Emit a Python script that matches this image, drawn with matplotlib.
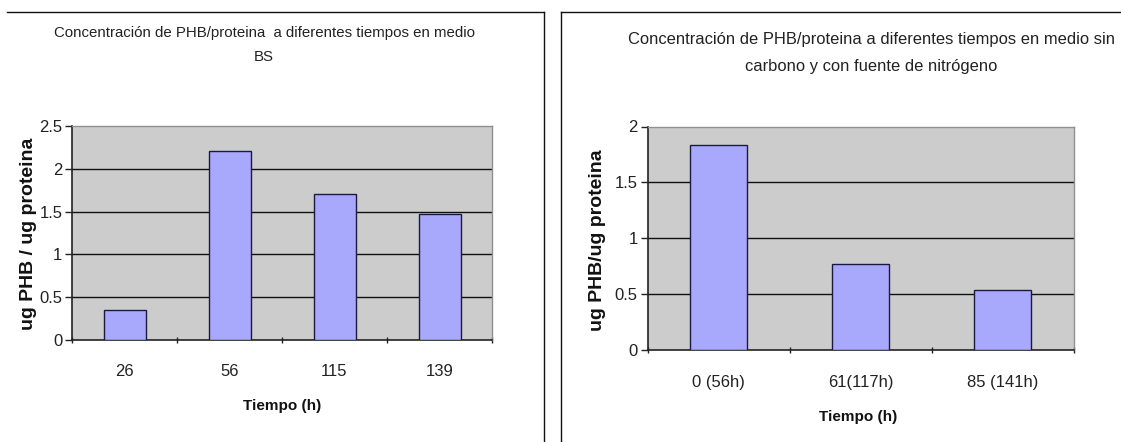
import matplotlib
matplotlib.use("Agg")
import matplotlib.pyplot as plt
from matplotlib import font_manager
from matplotlib.lines import Line2D

names = {f.name for f in font_manager.fontManager.ttflist}
NARROW = 'Liberation Sans Narrow' if 'Liberation Sans Narrow' in names else 'Liberation Sans'

# Data
left_categories = ['26', '56', '115', '139']
left_values = [0.35, 2.21, 1.71, 1.47]
right_categories = ['0 (56h)', '61(117h)', '85 (141h)']
right_values = [1.83, 0.77, 0.54]

left_title = 'Concentración de PHB/proteina  a diferentes tiempos en medio\nBS'
right_title = 'Concentración de PHB/proteina a diferentes tiempos en medio sin\ncarbono y con fuente de nitrógeno'

W, H = 1121, 442
fig = plt.figure(figsize=(W / 100, H / 100), dpi=100)
fig.patch.set_facecolor('white')

BAR = '#a8a8fc'
BG = '#cccccc'

def px(x, y):
    return x / W, 1 - y / H

def panel(rect, cats, vals, ymax, ystep, title, title_xy, title_size, ylabel, ylabel_xy,
          xlabel_xy, ticklabel_pad):
    ax = fig.add_axes(rect)
    n = len(cats)
    xs = list(range(n))
    ax.set_facecolor(BG)
    ax.bar(xs, vals, width=0.4, color=BAR, edgecolor='#1a1a40', linewidth=1.0, zorder=3)
    ax.set_xlim(-0.5, n - 0.5)
    ax.set_ylim(0, ymax)
    yt = []
    v = 0.0
    while v <= ymax + 1e-9:
        yt.append(round(v, 2))
        v += ystep
    ax.set_yticks(yt)
    ax.set_yticklabels([('%g' % t) for t in yt], fontfamily=NARROW, fontsize=12, color='#222222')
    for t in yt[1:-1]:
        ax.axhline(t, color='#111111', linewidth=1.0, zorder=2)
    ax.set_xticks(xs)
    ax.set_xticklabels(cats, fontfamily=NARROW, fontsize=12, color='#222222')
    ax.set_xticks([i - 0.5 for i in range(n + 1)], minor=True)
    ax.tick_params(axis='x', which='major', length=0, pad=ticklabel_pad)
    ax.tick_params(axis='x', which='minor', length=4, width=1, direction='inout', color='#222222')
    ax.tick_params(axis='y', length=5, width=1, direction='out', pad=2, color='#222222')
    for s in ['top', 'right']:
        ax.spines[s].set_color('#909090')
        ax.spines[s].set_linewidth(1.0)
    for s in ['left', 'bottom']:
        ax.spines[s].set_color('#222222')
        ax.spines[s].set_linewidth(1.2)
    tx, ty = px(*title_xy)
    fig.text(tx, ty, title, ha='center', va='center', fontfamily=NARROW, fontsize=title_size,
             color='#222222', linespacing=1.95)
    lx, ly = px(*ylabel_xy)
    fig.text(lx, ly, ylabel, ha='center', va='center', rotation=90, fontfamily='Liberation Sans',
             fontweight='bold', fontsize=14, color='#111111')
    xx, xy = px(*xlabel_xy)
    fig.text(xx, xy, 'Tiempo (h)', ha='center', va='center', fontfamily=NARROW,
             fontweight='bold', fontsize=11, color='#111111')
    return ax

# left panel
l0, t0 = px(72, 126)
l1, b1 = px(492, 340)
panel([l0, b1, l1 - l0, t0 - b1], left_categories, left_values, 2.5, 0.5,
      left_title, (264, 45), 10.8, 'ug PHB / ug proteina', (29, 234), (282, 406), 17)

# right panel
r0, rt = px(647.5, 126.5)
r1, rb = px(1074, 350)
panel([r0, rb, r1 - r0, rt - rb], right_categories, right_values, 2.0, 0.5,
      right_title, (871, 53), 11.9, 'ug PHB/ug proteina', (597, 240), (858, 417), 18)

# panel frames
def fline(x0, y0, x1, y1):
    a, b = px(x0, y0)
    c, d = px(x1, y1)
    fig.add_artist(Line2D([a, c], [b, d], transform=fig.transFigure, color='#111111', linewidth=1.0))

fline(7, 12, 544, 12)
fline(544, 12, 544, 445)
fline(561, 12, 1125, 12)
fline(561, 12, 561, 445)

fig.savefig('out.png', dpi=100, facecolor='white')
